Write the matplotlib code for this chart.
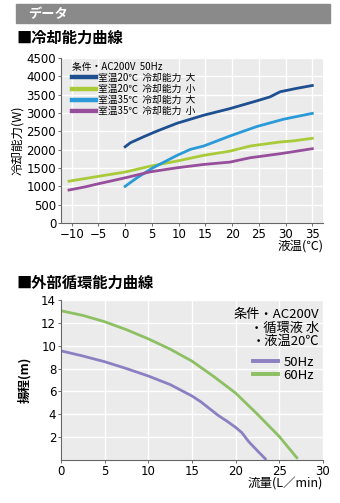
import matplotlib.pyplot as plt
import matplotlib.patches as mpatches

plt.rcParams['font.family'] = ['Noto Sans CJK JP', 'DejaVu Sans']

# 冷却能力曲線
temp_20_high = [0, 1, 3.5, 6, 9.7, 14.7, 19.6, 24.6, 27.1, 29, 32, 35]
cap_20_high = [2080, 2190, 2355, 2510, 2720, 2940, 3120, 3330, 3440, 3580, 3670, 3750]
temp_20_low = [-10.5, -4.7, 0, 4.7, 9.7, 14.7, 19.6, 23.4, 29, 31.5, 35]
cap_20_low = [1140, 1280, 1390, 1550, 1690, 1845, 1960, 2100, 2210, 2240, 2310]
temp_35_high = [0, 2.2, 5.2, 9.7, 12.2, 14.7, 19.6, 24.6, 29.6, 35]
cap_35_high = [1000, 1232, 1506, 1844, 2008, 2100, 2373, 2630, 2830, 2990]
temp_35_low = [-10.5, -7.5, -5, 0, 4.7, 9.7, 14.7, 19.6, 23.4, 29, 35]
cap_35_low = [900, 985, 1070, 1232, 1396, 1506, 1597, 1661, 1780, 1890, 2026]

# 外部循環能力曲線
flow_50 = [0, 2.5, 5, 7.5, 10, 12.5, 15, 16, 17, 18, 19, 20, 20.7, 21.5, 22.5, 23.4]
head_50 = [9.55, 9.1, 8.6, 8.0, 7.35, 6.6, 5.6, 5.1, 4.5, 3.9, 3.4, 2.85, 2.4, 1.6, 0.8, 0.1]
flow_60 = [0, 2.5, 5, 7.5, 10, 12.5, 15, 17.5, 20, 22.5, 25, 27]
head_60 = [13.06, 12.65, 12.1, 11.4, 10.6, 9.7, 8.65, 7.3, 5.85, 4.0, 2.05, 0.2]

BG = '#ebebeb'
FS = 8.5


def style_axes(ax):
    ax.set_facecolor(BG)
    ax.grid(True, color='white', linewidth=1.0)
    ax.set_axisbelow(True)
    for s in ['top', 'right']:
        ax.spines[s].set_visible(False)
    for s in ['left', 'bottom']:
        ax.spines[s].set_color('#666666')
        ax.spines[s].set_linewidth(0.8)
    ax.tick_params(labelsize=FS, length=2.5, width=0.6, color='#555555', pad=1)
    for lab in ax.get_xticklabels() + ax.get_yticklabels():
        lab.set_fontfamily('DejaVu Sans')


fig = plt.figure(figsize=(3.4, 5.03), dpi=100)

# header bar
fig.patches.append(mpatches.Rectangle((16 / 340, 1 - 23 / 503), 314 / 340, 19 / 503,
                                      transform=fig.transFigure, color='#8a8a8a'))
fig.text(28 / 340, 1 - 14 / 503, 'データ', color='white', fontsize=9.5, fontweight='bold',
         style='italic', va='center', ha='left')
fig.text(16 / 340, 1 - 38 / 503, '■冷却能力曲線', fontsize=11, fontweight='bold', va='center', ha='left')
fig.text(16 / 340, 1 - 283 / 503, '■外部循環能力曲線', fontsize=11, fontweight='bold', va='center', ha='left')

# top chart
ax1 = fig.add_axes([61 / 340, 1 - 223 / 503, 262 / 340, 165 / 503])
l1, = ax1.plot(temp_20_high, cap_20_high, color='#1d4f91', lw=2)
l2, = ax1.plot(temp_20_low, cap_20_low, color='#a9cb3a', lw=2)
l3, = ax1.plot(temp_35_high, cap_35_high, color='#2a9ad8', lw=2)
l4, = ax1.plot(temp_35_low, cap_35_low, color='#974f9c', lw=2)
ax1.set_xlim(-12, 37)
ax1.set_ylim(0, 4500)
ax1.set_xticks(range(-10, 36, 5))
ax1.set_xticklabels(['−10', '−5', '0', '5', '10', '15', '20', '25', '30', '35'])
ax1.set_yticks(range(0, 4501, 500))
style_axes(ax1)
ax1.set_ylabel('冷却能力(W)', fontsize=FS + 0.5, labelpad=2)
ax1.text(1.0, -0.1, '液温(℃)', transform=ax1.transAxes, ha='right', va='top', fontsize=FS + 0.5)
leg1 = ax1.legend([l1, l2, l3, l4],
                  ['室温20℃  冷却能力  大', '室温20℃  冷却能力  小',
                   '室温35℃  冷却能力  大', '室温35℃  冷却能力  小'],
                  title='条件・AC200V  50Hz', loc='upper left', frameon=False,
                  fontsize=7, title_fontsize=7, handlelength=2.5, handletextpad=0.2,
                  labelspacing=0.12, borderaxespad=0.0, borderpad=0.2,
                  bbox_to_anchor=(0.035, 0.99))
leg1._legend_box.align = 'left'
for h in leg1.get_lines():
    h.set_linewidth(3.2)

# bottom chart
ax2 = fig.add_axes([61 / 340, 1 - 460 / 503, 262 / 340, 160 / 503])
m1, = ax2.plot(flow_50, head_50, color='#8c80c2', lw=2)
m2, = ax2.plot(flow_60, head_60, color='#8cc063', lw=2)
ax2.set_xlim(0, 30)
ax2.set_ylim(0, 14)
ax2.set_xticks(range(0, 31, 5))
ax2.set_yticks(range(2, 15, 2))
style_axes(ax2)
ax2.set_ylabel('揚程(m)', fontsize=FS + 0.5, labelpad=7, fontweight='bold')
ax2.text(1.0, -0.11, '流量(L／min)', transform=ax2.transAxes, ha='right', va='top', fontsize=FS + 0.5)
ax2.text(0.985, 0.95, '条件・AC200V\n・循環液 水\n・液温20℃', transform=ax2.transAxes,
         ha='right', va='top', fontsize=9.5, linespacing=1.05, multialignment='right')
leg2 = ax2.legend([m1, m2], ['50Hz', '60Hz'], loc='upper right', frameon=False,
                  fontsize=9.5, handlelength=1.9, handletextpad=0.4, labelspacing=0.0,
                  borderaxespad=0.0, borderpad=0.0, bbox_to_anchor=(0.965, 0.65))
for h in leg2.get_lines():
    h.set_linewidth(2.8)

fig.savefig('out.png', dpi=100)
